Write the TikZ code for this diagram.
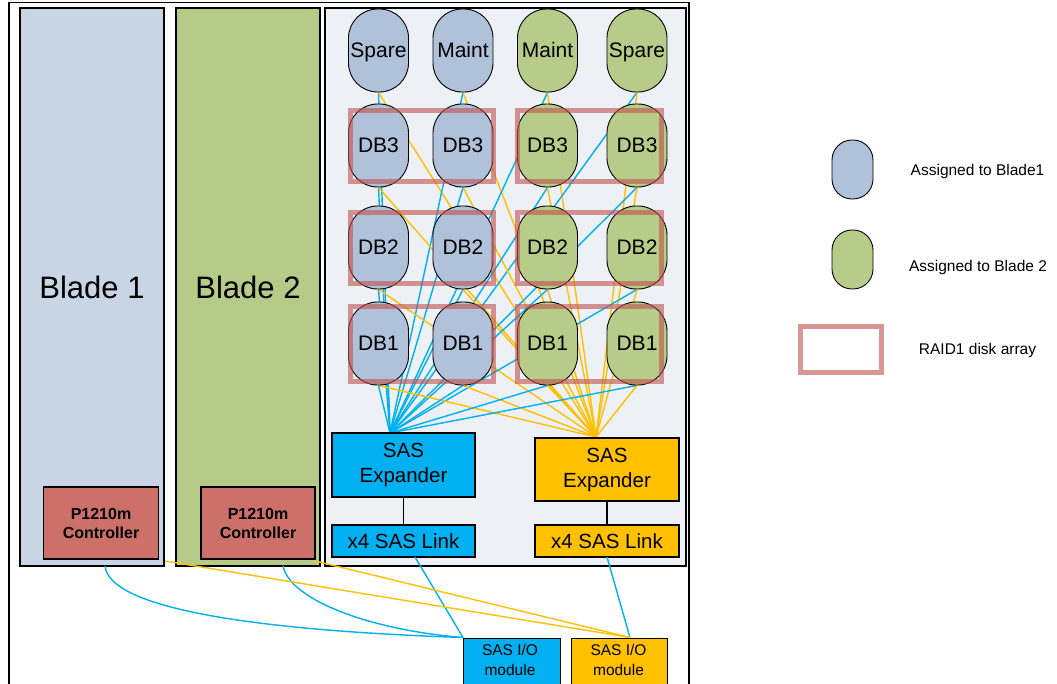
\documentclass[tikz,border=0pt]{standalone}
\usepackage{fontspec}
\setmainfont{Liberation Sans}
\usetikzlibrary{calc}
\definecolor{bladeA}{HTML}{C8D5E5}
\definecolor{bladeB}{HTML}{B6CB88}
\definecolor{encl}{HTML}{EDF0F5}
\definecolor{diskA}{HTML}{B0C1DA}
\definecolor{diskB}{HTML}{B6CC88}
\definecolor{ctrl}{HTML}{CD7069}
\definecolor{sasblue}{HTML}{00B0F0}
\definecolor{sasorange}{HTML}{FFC000}
\definecolor{raidred}{HTML}{C0504D}
\pgfdeclarelayer{back}
\pgfdeclarelayer{mid}
\pgfdeclarelayer{front}
\pgfsetlayers{back,mid,main,front}
\tikzset{
  frame/.style={draw=black, line width=1.3pt},
  blade/.style={draw=black, line width=1.3pt, inner sep=0pt, font=\fontsize{31}{36}\selectfont},
  disk/.style={draw=black, line width=0.9pt, rounded corners=29pt, minimum width=60pt, minimum height=83pt, inner sep=0pt, text height=16.5pt, text depth=1.5pt, font=\fontsize{21}{24}\selectfont},
  legdisk/.style={draw=black, line width=0.9pt, rounded corners=20pt, minimum width=41pt, minimum height=59pt, inner sep=0pt},
  raidbox/.style={draw=raidred, draw opacity=0.6, line width=5pt, inner sep=0pt},
  sasbox/.style={draw=black, line width=1.3pt, inner sep=0pt, align=center, font=\fontsize{20.5}{25}\selectfont},
  ctrlbox/.style={draw=black, line width=1.3pt, fill=ctrl, inner sep=0pt, align=center, font=\fontsize{16}{19}\selectfont\bfseries},
  modbox/.style={draw=black, line width=1.3pt, inner sep=0pt},
  modtext/.style={inner sep=0pt, align=center, font=\fontsize{15.5}{20}\selectfont},
  bline/.style={draw=sasblue, line width=1.4pt},
  oline/.style={draw=sasorange, line width=1.4pt},
  legtext/.style={font=\fontsize{15.5}{18}\selectfont, inner sep=0pt},
  link/.style={draw=black, line width=1.2pt}
}
\begin{document}
\begin{tikzpicture}[x=1pt,y=-1pt]
\useasboundingbox (0,0) rectangle (1057,684);

% frames
\begin{pgfonlayer}{back}
\draw[frame] (9,2.5) rectangle (689,720);
\node[blade, fill=bladeA, minimum width=144pt, minimum height=558pt] (blade1) at (92,287) {Blade 1};
\node[blade, fill=bladeB, minimum width=144pt, minimum height=558pt] (blade2) at (248,287) {Blade 2};
\node[frame, fill=encl, inner sep=0pt, minimum width=361pt, minimum height=558pt] (enclosure) at (505.5,287) {};
\end{pgfonlayer}

% disks
\node[disk, fill=diskA] (sp1) at (378.5,50.5) {Spare};
\node[disk, fill=diskA] (mt2) at (463,50.5) {Maint};
\node[disk, fill=diskB] (mt3) at (547.5,50.5) {Maint};
\node[disk, fill=diskB] (sp4) at (637,50.5) {Spare};
\node[disk, fill=diskA] (d31) at (378.5,145.5) {DB3};
\node[disk, fill=diskA] (d32) at (463,145.5) {DB3};
\node[disk, fill=diskB] (d33) at (547.5,145.5) {DB3};
\node[disk, fill=diskB] (d34) at (637,145.5) {DB3};
\node[disk, fill=diskA] (d21) at (378.5,247.5) {DB2};
\node[disk, fill=diskA] (d22) at (463,247.5) {DB2};
\node[disk, fill=diskB] (d23) at (547.5,247.5) {DB2};
\node[disk, fill=diskB] (d24) at (637,247.5) {DB2};
\node[disk, fill=diskA] (d11) at (378.5,343.5) {DB1};
\node[disk, fill=diskA] (d12) at (463,343.5) {DB1};
\node[disk, fill=diskB] (d13) at (547.5,343.5) {DB1};
\node[disk, fill=diskB] (d14) at (637,343.5) {DB1};

% SAS expanders and links
\node[sasbox, fill=sasblue, minimum width=143pt, minimum height=64pt] (bexp) at (403.5,465) {SAS\\Expander};
\node[sasbox, fill=sasorange, minimum width=144pt, minimum height=63pt] (oexp) at (607,469.5) {SAS\\Expander};
\node[sasbox, fill=sasblue, minimum width=143pt, minimum height=32pt] (blink) at (403.5,541) {x4 SAS Link};
\node[sasbox, fill=sasorange, minimum width=144pt, minimum height=32pt] (olink) at (607,541) {x4 SAS Link};
\draw[link] (bexp.south) -- (blink.north);
\draw[link] (oexp.south) -- (olink.north);

\coordinate (bhub) at (390,433);
\coordinate (ohub) at (596,437);

% disk connections (behind disks)
\begin{pgfonlayer}{mid}
\foreach \d in {sp1,mt2,mt3,sp4,d31,d32,d33,d34,d21,d22,d23,d24,d11,d12,d13,d14}{
  \draw[bline] (\d.south) -- (bhub);
  \draw[oline] (\d.south) -- (ohub);
}
\end{pgfonlayer}

% RAID arrays
\begin{pgfonlayer}{front}
\node[raidbox, minimum width=143pt, minimum height=71pt] (r3a) at (421.5,146.5) {};
\node[raidbox, minimum width=144pt, minimum height=71pt] (r3b) at (589,146.5) {};
\node[raidbox, minimum width=143pt, minimum height=71pt] (r2a) at (421.5,248.5) {};
\node[raidbox, minimum width=144pt, minimum height=71pt] (r2b) at (589,248.5) {};
\node[raidbox, minimum width=143pt, minimum height=74pt] (r1a) at (421.5,344) {};
\node[raidbox, minimum width=144pt, minimum height=74pt] (r1b) at (589,344) {};
\end{pgfonlayer}

% controllers
\node[ctrlbox, minimum width=115pt, minimum height=72pt] (ctrl1) at (101,523) {P1210m\\Controller};
\node[ctrlbox, minimum width=114pt, minimum height=72pt] (ctrl2) at (258,523) {P1210m\\Controller};

% SAS I/O modules
\node[modbox, fill=sasblue, minimum width=97pt, minimum height=70pt, anchor=north west] (bmod) at (463,637.5) {};
\node[modbox, fill=sasorange, minimum width=96pt, minimum height=70pt, anchor=north west] (omod) at (571,637.5) {};
\node[modtext] (bmodt) at (510,660) {SAS I/O\\module};
\node[modtext] (omodt) at (618.5,660) {SAS I/O\\module};

% bottom connections
\coordinate (c1b) at (105,566);
\coordinate (c2b) at (283,566);
\coordinate (b1o) at (165,561);
\coordinate (c2o) at (315,561);
\coordinate (blo) at (415,557);
\coordinate (olo) at (607,557);
\coordinate (bin) at (463,637.5);
\coordinate (oin) at (630,637.5);
\draw[bline] (c1b) .. controls (110,615) and (300,632) .. (bin);
\draw[bline] (c2b) .. controls (290,600) and (370,630) .. (bin);
\draw[bline] (blo) -- (bin);
\draw[bline] (olo) -- (oin);
\draw[oline] (b1o) -- (oin);
\draw[oline] (c2o) -- (oin);

% legend
\node[legdisk, fill=diskA] (lg1) at (852.5,169.5) {};
\node[legdisk, fill=diskB] (lg2) at (852.5,259.5) {};
\node[raidbox, minimum width=81pt, minimum height=46pt] (lg3) at (841,349.5) {};
\node[legtext] (lt1) at (977.5,171) {Assigned to Blade1};
\node[legtext] (lt2) at (978,267) {Assigned to Blade 2};
\node[legtext] (lt3) at (977.5,350) {RAID1 disk array};
\end{tikzpicture}
\end{document}
